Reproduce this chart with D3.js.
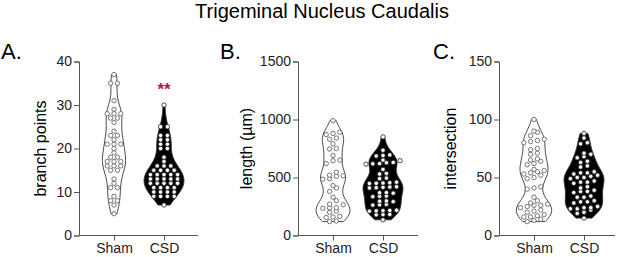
<!DOCTYPE html>
<html>
<head>
<meta charset="utf-8">
<script src="https://cdn.jsdelivr.net/npm/d3@7"></script>
<style>
  body { margin: 0; background: #fff; }
</style>
</head>
<body>
<div id="container"></div>
<script>
// groups and per-cell values
const groups = ["Sham", "CSD"];

const branchSham = [37, 35, 35, 31, 29, 28, 28, 28, 27, 27, 26, 24, 23, 23, 22, 21, 21, 21, 20, 19, 18, 18, 17, 17, 17, 16, 16, 16, 15, 15, 13, 12, 11, 11, 9, 8, 8, 7, 5];
const branchCSD = [30, 25, 25, 23, 23, 22, 22, 21, 21, 20, 20, 18, 17, 16, 16, 16, 15, 15, 15, 15, 14, 14, 14, 14, 14, 13, 13, 13, 13, 13, 12, 12, 12, 12, 12, 11, 11, 11, 11, 10, 10, 10, 10, 9, 9, 9, 9, 7];

const lengthSham = [990, 890, 880, 870, 840, 830, 790, 750, 745, 690, 650, 645, 620, 545, 520, 515, 510, 490, 485, 430, 410, 380, 330, 300, 270, 265, 240, 238, 235, 210, 200, 165, 160, 155, 125, 120];
const lengthCSD = [850, 735, 695, 690, 685, 650, 645, 630, 628, 620, 618, 615, 570, 535, 530, 495, 490, 460, 455, 452, 450, 448, 420, 418, 415, 412, 410, 370, 368, 365, 340, 338, 335, 298, 295, 292, 268, 265, 262, 218, 216, 214, 212, 210, 182, 180, 178, 135];

const interSham = [100, 90, 89, 86, 83, 82, 81, 80, 75, 74, 71, 70, 66, 65, 64, 62, 61, 57, 56, 55, 54, 53, 52, 50, 49, 42, 41, 40, 33, 30, 28, 27, 26, 26, 25, 24, 22, 21, 20, 18, 17, 16, 16, 14, 13, 12];
const interCSD = [88, 84, 80, 79, 71, 70, 68, 67, 64, 63, 60, 59, 55, 54, 54, 53, 52, 51, 50, 50, 49, 47, 46, 46, 45, 42, 41, 39, 38, 38, 37, 34, 33, 33, 30, 29, 29, 28, 25, 24, 24, 23, 23, 22, 20, 19, 15];

const ticksA = [0, 10, 20, 30, 40];
const ticksB = [0, 500, 1000, 1500];
const ticksC = [0, 50, 100, 150];

const width = 617, height = 257;
const plotTop = 61.5, plotBottom = 235.5;

const panels = [
  { letter: "A.", letterX: 1, label: "branch points", left: 79, right: 198, ymax: 40, ticks: ticksA, data: [branchSham, branchCSD], bw: 2.4, titleOff: 33, stars: "**" },
  { letter: "B.", letterX: 220, label: "length (\u00b5m)", left: 298, right: 418, ymax: 1500, ticks: ticksB, data: [lengthSham, lengthCSD], bw: 65, titleOff: 46 },
  { letter: "C.", letterX: 433, label: "intersection", left: 499, right: 615, ymax: 150, ticks: ticksC, data: [interSham, interCSD], bw: 7, titleOff: 43 }
];

const svg = d3.select("#container")
  .append("svg")
  .attr("width", width)
  .attr("height", height)
  .style("font-family", "Liberation Sans, Arial, sans-serif");

svg.append("text")
  .attr("x", 322)
  .attr("y", 18)
  .attr("text-anchor", "middle")
  .style("font-size", "20px")
  .text("Trigeminal Nucleus Caudalis");

function kde(values, h) {
  const c = 1 / (values.length * h * Math.sqrt(2 * Math.PI));
  return v => c * d3.sum(values, xi => Math.exp(-0.5 * ((v - xi) / h) ** 2));
}

panels.forEach(p => {
  const g = svg.append("g");

  const y = d3.scaleLinear().domain([0, p.ymax]).range([plotBottom, plotTop]);
  const x = d3.scalePoint().domain(groups).range([p.left + 35, p.left + 85]);

  // y axis
  const ya = g.append("g")
    .attr("transform", `translate(${p.left},0)`)
    .call(d3.axisLeft(y).tickValues(p.ticks).tickFormat(d3.format("d")).tickSize(5).tickPadding(2));
  ya.selectAll("text").style("font-size", "14px").attr("fill", "#222");

  // x axis
  const xa = g.append("g")
    .attr("transform", `translate(0,${plotBottom})`)
    .call(d3.axisBottom(x).tickSize(5).tickPadding(3));
  xa.select(".domain").attr("d", `M${p.left},0H${p.right}`);
  xa.selectAll("text").style("font-size", "14px").attr("fill", "#222");

  g.selectAll(".domain, .tick line").attr("stroke", "#555");

  g.append("text")
    .attr("transform", `translate(${p.left - p.titleOff},${(plotTop + plotBottom) / 2}) rotate(-90)`)
    .attr("text-anchor", "middle")
    .style("font-size", "16px")
    .text(p.label);

  svg.append("text")
    .attr("x", p.letterX)
    .attr("y", 59)
    .style("font-size", "22px")
    .text(p.letter);

  // violins: shared width scale within a panel
  const dens = p.data.map(vals => kde(vals, p.bw));
  const samples = p.data.map((vals, i) => {
    const [lo, hi] = d3.extent(vals);
    return d3.range(0, 61).map(k => {
      const v = lo + (hi - lo) * k / 60;
      return { v, d: dens[i](v) };
    });
  });
  const maxD = d3.max(samples.flat(), s => s.d);
  const w = d3.scaleLinear().domain([0, maxD]).range([0, 20]);

  p.data.forEach((vals, i) => {
    const cx = x(groups[i]);
    const area = d3.area()
      .curve(d3.curveBasis)
      .x0(s => cx - w(s.d))
      .x1(s => cx + w(s.d))
      .y(s => y(s.v));
    g.append("path")
      .datum(samples[i])
      .attr("d", area)
      .attr("fill", i === 0 ? "#fff" : "#000")
      .attr("stroke", "#333")
      .attr("stroke-width", 0.9);

    // rows of points, spread sideways
    const sorted = vals.slice().sort(d3.ascending);
    const rows = [];
    sorted.forEach(v => {
      const last = rows[rows.length - 1];
      if (last && y(last[0]) - y(v) < 3.5) last.push(v);
      else rows.push([v]);
    });
    const pts = [];
    rows.forEach(r => r.forEach((v, k) => pts.push({ v, dx: (k - (r.length - 1) / 2) * 6.8 })));

    g.selectAll(null)
      .data(pts)
      .enter()
      .append("circle")
      .attr("cx", d => cx + d.dx)
      .attr("cy", d => y(d.v))
      .attr("r", 2.2)
      .attr("fill", "#fff")
      .attr("stroke", i === 0 ? "#555" : "#222")
      .attr("stroke-width", 0.8);
  });

  if (p.stars) {
    g.append("text")
      .attr("x", x("CSD"))
      .attr("y", 95)
      .attr("text-anchor", "middle")
      .attr("fill", "#b0164c")
      .style("font-size", "17px")
      .style("font-weight", "bold")
      .text(p.stars);
  }
});
</script>
</body>
</html>
